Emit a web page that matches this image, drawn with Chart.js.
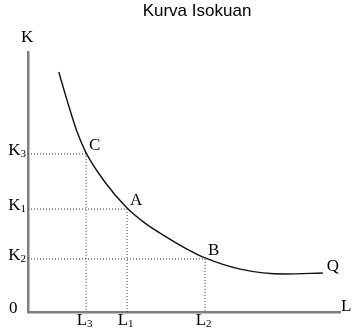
<!DOCTYPE html>
<html>
<head>
<meta charset="utf-8">
<script src="https://cdn.jsdelivr.net/npm/chart.js@4.4.0/dist/chart.umd.min.js"></script>
<style>
  html, body { margin: 0; padding: 0; background: #ffffff; }
  #wrap { width: 355px; height: 335px; position: relative; }
</style>
</head>
<body>
<div id="wrap"><canvas id="c" width="355" height="335"></canvas></div>
<script>
// ---- data ----
const chartTitle = 'Kurva Isokuan';
const curveL = [0.79, 1.00, 1.26, 1.49, 1.97, 2.54, 3.00, 3.51, 4.03, 4.54, 5.44, 6.59, 7.56];
const curveK = [9.23, 8.15, 6.92, 6.12, 5.00, 4.00, 3.42, 2.92, 2.46, 2.08, 1.65, 1.46, 1.50];
const pointNames = ['C', 'A', 'B'];
const pointL = [1.49, 2.54, 4.54];
const pointK = [6.08, 3.96, 2.04];
const pointSubs = ['3', '1', '2'];
const curveName = 'Q';
const xAxisName = 'L';
const yAxisName = 'K';
const originLabel = '0';
const xMax = 8;
const yMax = 10;

const curveData = curveL.map((l, i) => ({ x: l, y: curveK[i] }));
const guideSets = pointL.map((l, i) => ({
  label: 'guide ' + pointNames[i],
  data: [{ x: 0, y: pointK[i] }, { x: l, y: pointK[i] }, { x: l, y: 0 }],
  showLine: true,
  borderColor: '#333333',
  borderWidth: 1,
  borderDash: [1, 2],
  pointRadius: 0,
  tension: 0,
  fill: false
}));

const serif = '"Liberation Serif", "Times New Roman", serif';

const labelPlugin = {
  id: 'labels',
  afterDraw(chart) {
    const ctx = chart.ctx;
    const xs = chart.scales.x, ys = chart.scales.y;
    ctx.save();
    ctx.fillStyle = '#000';
    // title
    ctx.font = '17px "Liberation Sans", Arial, sans-serif';
    ctx.textAlign = 'center';
    ctx.textBaseline = 'alphabetic';
    ctx.fillText(chartTitle, 197, 16);

    const big = '17px ' + serif;
    const small = '11px ' + serif;
    // axis names
    ctx.font = big;
    ctx.textAlign = 'left';
    ctx.fillText(yAxisName, xs.getPixelForValue(0) - 7, 42);
    ctx.fillText(xAxisName, xs.getPixelForValue(xMax) + 1, ys.getPixelForValue(0) - 1);
    ctx.fillText(originLabel, 9, ys.getPixelForValue(0) + 1);

    for (let i = 0; i < pointNames.length; i++) {
      const px = xs.getPixelForValue(pointL[i]);
      const py = ys.getPixelForValue(pointK[i]);
      // K labels on left
      ctx.font = small;
      ctx.textAlign = 'right';
      const subW = ctx.measureText(pointSubs[i]).width;
      ctx.fillText(pointSubs[i], 26, py + 3);
      ctx.font = big;
      ctx.fillText('K', 26 - subW, py + 1);
      // L labels below
      ctx.font = big;
      ctx.textAlign = 'right';
      ctx.fillText('L', px + 1, ys.getPixelForValue(0) + 13);
      ctx.font = small;
      ctx.textAlign = 'left';
      ctx.fillText(pointSubs[i], px + 1, ys.getPixelForValue(0) + 15);
      // point names
      ctx.font = big;
      ctx.textAlign = 'left';
      ctx.fillText(pointNames[i], px + 3, py - 4);
    }
    // curve name
    const last = curveData[curveData.length - 1];
    ctx.font = big;
    ctx.textAlign = 'left';
    ctx.fillText(curveName, xs.getPixelForValue(last.x) + 4, ys.getPixelForValue(last.y) - 2);
    ctx.restore();
  }
};

new Chart(document.getElementById('c'), {
  type: 'scatter',
  data: {
    datasets: [
      {
        label: 'Isokuan Q',
        data: curveData,
        showLine: true,
        borderColor: '#111111',
        borderWidth: 1.4,
        pointRadius: 0,
        cubicInterpolationMode: 'monotone',
        fill: false
      },
      ...guideSets
    ]
  },
  options: {
    responsive: false,
    animation: false,
    devicePixelRatio: 1,
    layout: { padding: { left: 28, right: 15, top: 52, bottom: 23 } },
    plugins: {
      legend: { display: false },
      title: { display: false },
      tooltip: { enabled: false }
    },
    scales: {
      x: {
        type: 'linear', min: 0, max: xMax,
        grid: { display: false, drawTicks: false },
        ticks: { display: false },
        border: { display: true, color: '#808080', width: 2.5 },
        afterFit(s) { s.height = 0; }
      },
      y: {
        type: 'linear', min: 0, max: yMax,
        grid: { display: false, drawTicks: false },
        ticks: { display: false },
        border: { display: true, color: '#808080', width: 2.5 },
        afterFit(s) { s.width = 0; }
      }
    }
  },
  plugins: [labelPlugin]
});
</script>
</body>
</html>
